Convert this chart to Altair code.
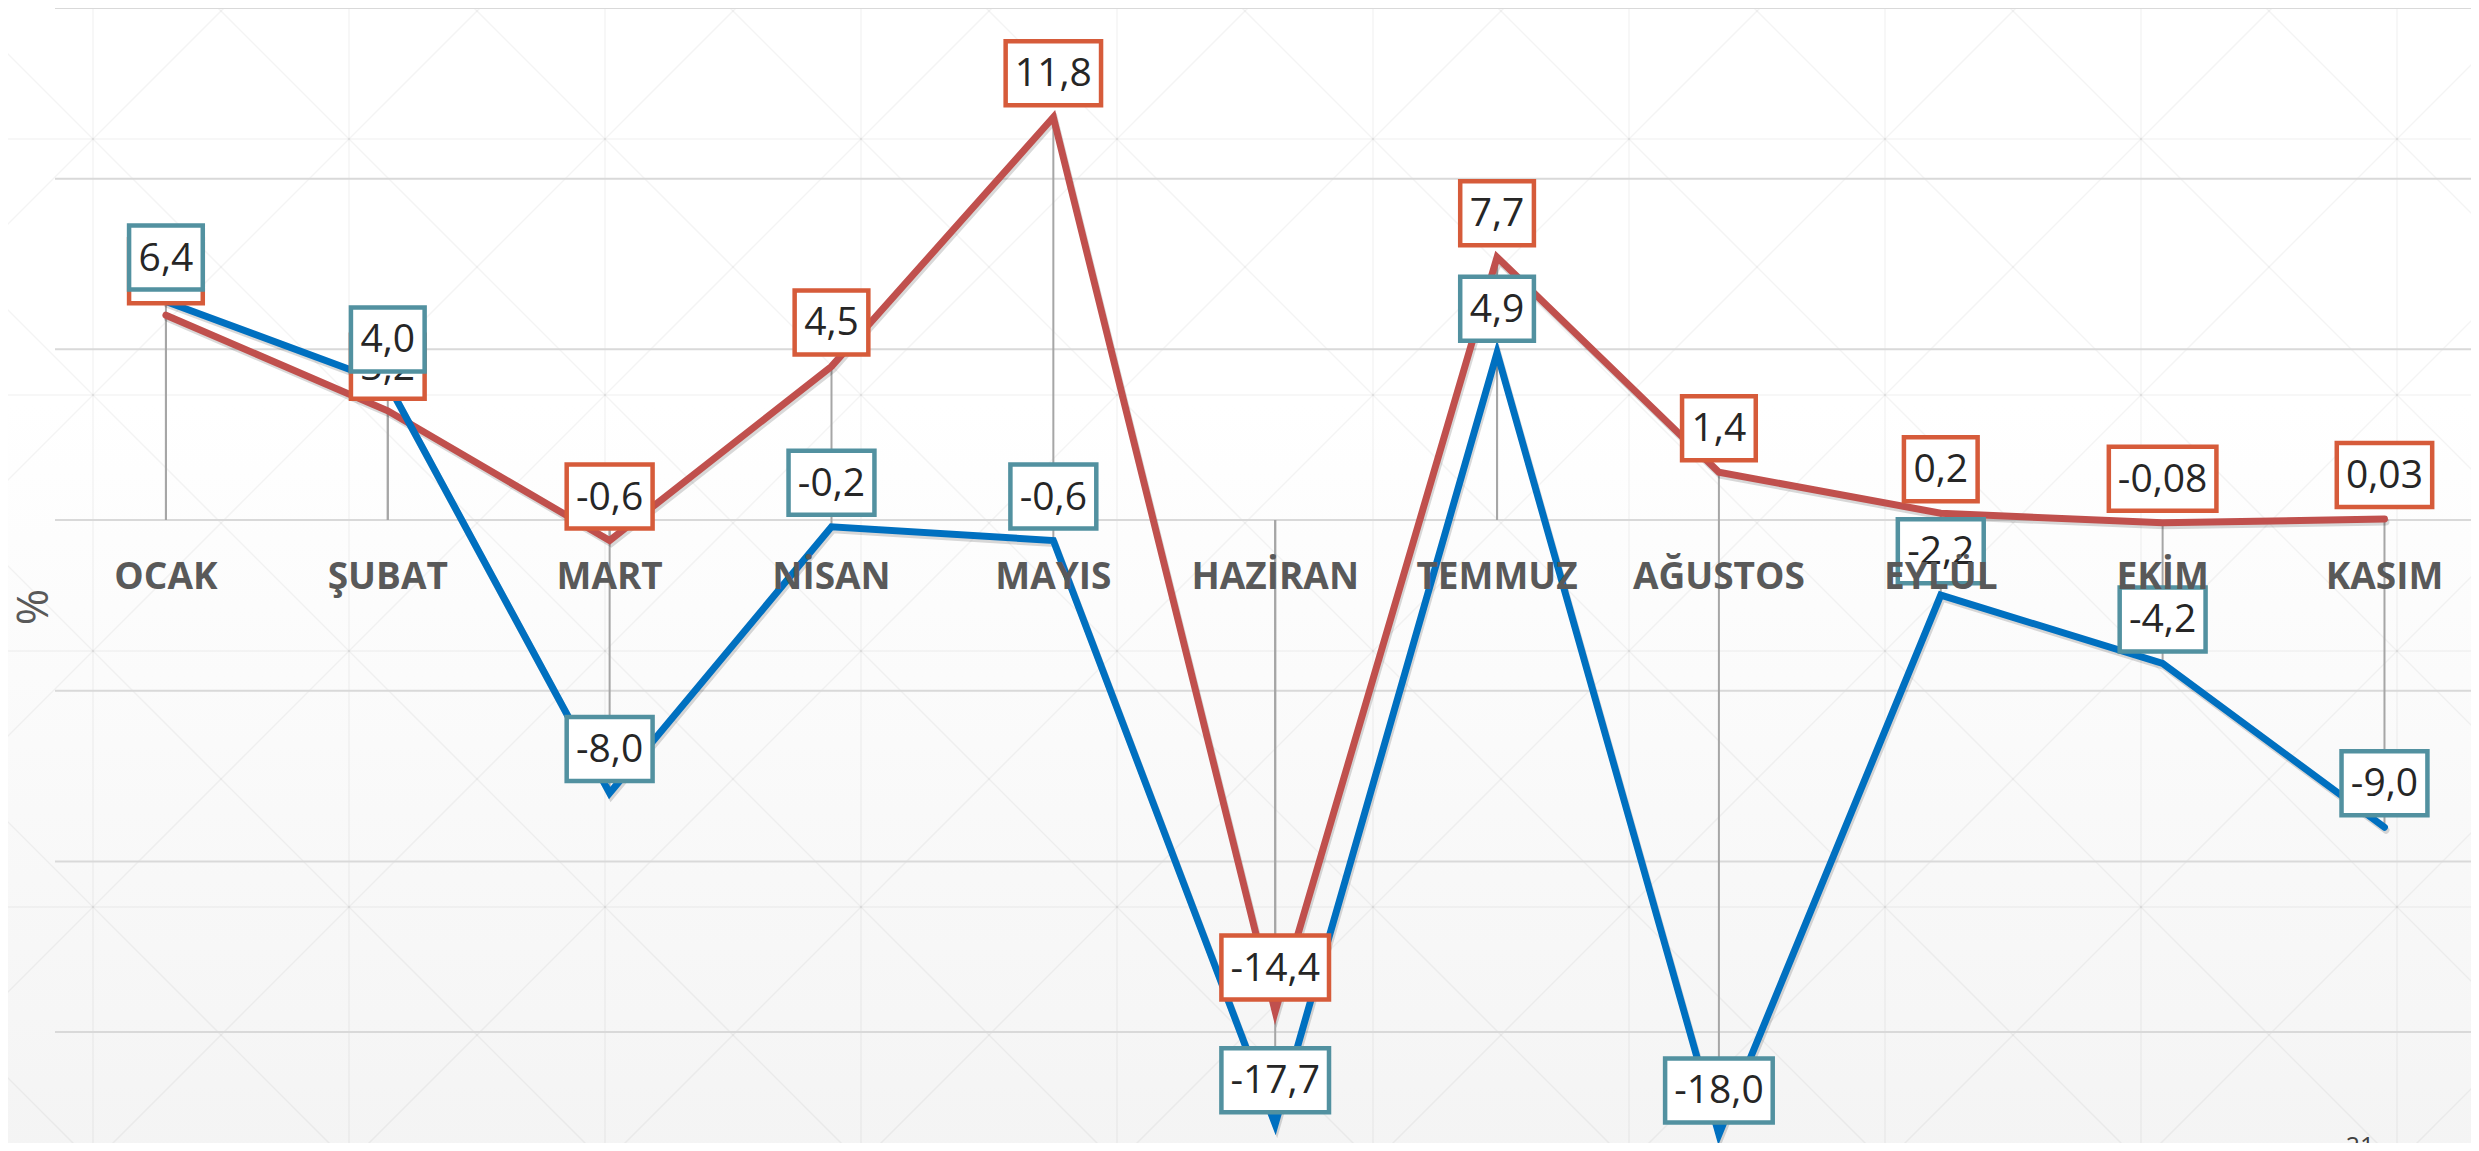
import altair as alt
import pandas as pd

# ---- data ----
months = ["OCAK", "ŞUBAT", "MART", "NİSAN", "MAYIS", "HAZİRAN",
          "TEMMUZ", "AĞUSTOS", "EYLÜL", "EKİM", "KASIM"]
blue_values = [6.4, 4.0, -8.0, -0.2, -0.6, -17.7, 4.9, -18.0, -2.2, -4.2, -9.0]
red_values = [6.0, 3.2, -0.6, 4.5, 11.8, -14.4, 7.7, 1.4, 0.2, -0.08, 0.03]
blue_labels = ["6,4", "4,0", "-8,0", "-0,2", "-0,6", "-17,7", "4,9", "-18,0", "-2,2", "-4,2", "-9,0"]
red_labels = ["6,0", "3,2", "-0,6", "4,5", "11,8", "-14,4", "7,7", "1,4", "0,2", "-0,08", "0,03"]
grid_values = [-15, -10, -5, 0, 5, 10, 15]
axis_title = ["%"]
page_number = ["21"]

BLUE = "#0070C0"
RED = "#C0504D"
BLUE_BOX = "#5291A0"
RED_BOX = "#D65B3A"
FONT = "Open Sans"

W, H = 2416, 1135
PAD_L = 47

# slide background texture (square lattice with diagonals), page pixels
TEX_STEP = 256
TEX_X0, TEX_Y0 = 93 - PAD_L - 8, 139 - 8


def series_df(values, labels):
    return pd.DataFrame({
        "idx": list(range(len(months))),
        "month": months,
        "value": values,
        "label": labels,
        "zero": [0] * len(months),
    })


blue_df = series_df(blue_values, blue_labels)
red_df = series_df(red_values, red_labels)
cat_df = pd.DataFrame({"idx": list(range(len(months))), "month": months, "value": [0] * len(months)})
grid_df = pd.DataFrame({"value": grid_values})

# texture lines
top, bot = -8, H + 8
left, right = -PAD_L, W + 8
tex = []
for k in range(-2, 12):
    x = TEX_X0 + k * TEX_STEP
    tex.append((x, top, x, bot))
for k in range(-2, 6):
    y = TEX_Y0 + k * TEX_STEP
    tex.append((left, y, right, y))
for k in range(-8, 14):
    c = TEX_X0 - TEX_Y0 + k * TEX_STEP       # x - y = c
    tex.append((c + top, top, c + bot, bot))
    d = TEX_X0 + TEX_Y0 + k * TEX_STEP       # x + y = d
    tex.append((d - top, top, d - bot, bot))
tex_df = pd.DataFrame(tex, columns=["x", "y", "x2", "y2"])

X = alt.X("idx:Q", scale=alt.Scale(domain=[-0.5, 10.39], nice=False, zero=False), axis=None)
Y = alt.Y("value:Q", scale=alt.Scale(domain=[-18.25, 15], nice=False, zero=False), axis=None)

# background gradient
bg = alt.Chart(pd.DataFrame({"a": [0]})).mark_rect(
    fill=alt.Gradient(gradient="linear", x1=0, x2=0, y1=0, y2=1,
                      stops=[alt.GradientStop(color="#ffffff", offset=0),
                             alt.GradientStop(color="#ffffff", offset=0.35),
                             alt.GradientStop(color="#f4f4f4", offset=1)])
).encode(x=alt.value(-PAD_L), x2=alt.value(W), y=alt.value(-8), y2=alt.value(H + 8))

texture = alt.Chart(tex_df).mark_rule(color="#000000", opacity=0.045, strokeWidth=1.5).encode(
    x=alt.X("x:Q", scale=None), y=alt.Y("y:Q", scale=None),
    x2="x2:Q", y2="y2:Q")

grid = alt.Chart(grid_df).mark_rule(color="#d9d9d9", strokeWidth=2).encode(
    y=Y, x=alt.value(0), x2=alt.value(W))

drops = alt.layer(
    *[alt.Chart(d).mark_rule(color="#a6a6a6", strokeWidth=2).encode(x=X, y=Y, y2="zero:Q")
      for d in (red_df, blue_df)]
)


def line_layers(df, color):
    shadow = alt.Chart(df).mark_line(color="#000000", opacity=0.15, strokeWidth=7,
                                     xOffset=1.5, yOffset=3, strokeCap="round").encode(
        x=X, y=Y, order="idx:Q")
    line = alt.Chart(df).mark_line(color=color, strokeWidth=7, strokeCap="round").encode(
        x=X, y=Y, order="idx:Q")
    return shadow, line


def label_layers(df, border):
    box = alt.Chart(df).transform_calculate(
        neg="indexof(datum.label, '-') >= 0 ? 1 : 0"
    ).transform_calculate(
        hw="((length(datum.label) - 1 - datum.neg) * 21.7 + 9.3 + datum.neg * 12.2) / 2 + 10.5"
    ).transform_calculate(
        path="'M' + (-datum.hw) + ',-76H' + datum.hw + 'V-12H' + (-datum.hw) + 'Z'"
    ).mark_point(filled=True, fill="white", stroke=border, strokeWidth=4.5,
                 size=4, opacity=1, strokeJoin="miter").encode(
        x=X, y=Y, shape=alt.Shape("path:N", scale=None, legend=None))
    txt = alt.Chart(df).mark_text(font=FONT, fontSize=39, color="#262626", dy=-43,
                                  baseline="middle", align="center").encode(
        x=X, y=Y, text="label:N")
    return box, txt


red_shadow, red_line = line_layers(red_df, RED)
blue_shadow, blue_line = line_layers(blue_df, BLUE)
red_box, red_txt = label_layers(red_df, RED_BOX)
blue_box, blue_txt = label_layers(blue_df, BLUE_BOX)

cats = alt.Chart(cat_df).mark_text(font=FONT, fontSize=37, fontWeight="bold", color="#595959",
                                   dy=58, baseline="middle", align="center").encode(
    x=X, y=Y, text="month:N")

ytitle = alt.Chart(pd.DataFrame({"t": axis_title})).mark_text(
    font=FONT, fontSize=44, color="#595959", angle=270, baseline="middle", align="center").encode(
    x=alt.value(-20), y=alt.value(599), text="t:N")

page = alt.Chart(pd.DataFrame({"t": page_number})).mark_text(
    font=FONT, fontSize=25, color="#404040", baseline="top", align="center").encode(
    x=alt.value(2305), y=alt.value(1127), text="t:N")

chart = alt.layer(
    bg, texture, grid, drops, red_shadow, blue_shadow, red_line, blue_line,
    red_box, red_txt, blue_box, blue_txt, cats, ytitle, page
).properties(
    width=W, height=H,
    padding={"left": PAD_L, "top": 0, "right": 0, "bottom": 0},
    autosize=alt.AutoSizeParams(type="none"),
).configure_view(stroke=None)

chart.save("out.html", embed_options={"renderer": "svg", "actions": False})
